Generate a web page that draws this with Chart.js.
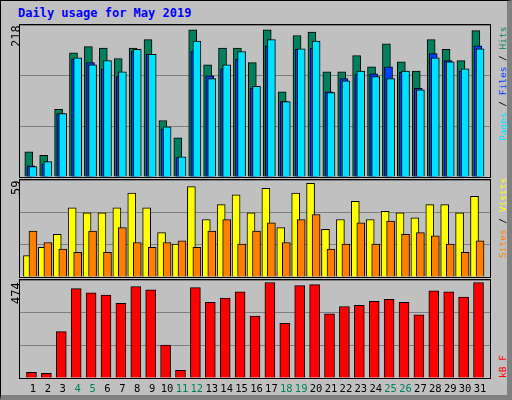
<!DOCTYPE html>
<html>
<head>
<meta charset="utf-8">
<script src="https://cdn.jsdelivr.net/npm/chart.js@4/dist/chart.umd.min.js"></script>
<style>
  body { margin: 0; background: #c0c0c0; }
  #frame { position: absolute; left: 0; top: 0; width: 506px; height: 394px; background: #c0c0c0;
           border-left: 1px solid #000; border-top: 1px solid #000;
           border-right: 5px solid #808080; border-bottom: 5px solid #808080; }
  .panel { position: absolute; left: 19px; width: 470px; border: 1px solid #000; }
  .txt { position: absolute; font: 12px "DejaVu Sans Mono", monospace; white-space: nowrap; }
  .rot { transform-origin: left top; transform: rotate(-90deg); }
  .rl { font-size: 9.5px; }
  #title { left: 18px; top: 6px; color: #0000ff; font-weight: bold; }
</style>
</head>
<body>
<div id="frame"></div>
<div class="txt" id="title">Daily usage for May 2019</div>
<div class="panel" style="top:24px;height:152px"><canvas id="c1" width="470" height="152"></canvas></div>
<div class="panel" style="top:179px;height:97px"><canvas id="c2" width="470" height="97"></canvas></div>
<div class="panel" style="top:279px;height:98px"><canvas id="c3" width="470" height="98"></canvas></div>
<div class="txt rot" style="left:9px;top:47px">218</div>
<div class="txt rot" style="left:9px;top:195px">59</div>
<div class="txt rot" style="left:9px;top:304px">474</div>
<div class="txt rot rl" style="left:497px;top:141px"><span style="color:#00e0ff">Pages</span> / <span style="color:#0040ff">Files</span> / <span style="color:#00805c">Hits</span></div>
<div class="txt rot rl" style="left:497px;top:258px"><span style="color:#ff8000">Sites</span> / <span style="color:#ffff00">Visits</span></div>
<div class="txt rot rl" style="left:497px;top:378px"><span style="color:#ff0000">kB F</span></div>
<div id="xl"></div>
<script>
const days = Array.from({length: 31}, (_, i) => i + 1);
const weekend = [4, 5, 11, 12, 18, 19, 25, 26];
const hits  = [36,31,97,178,187,185,170,185,197,81,56,211,161,185,185,164,211,122,203,208,151,151,174,158,191,165,152,197,183,167,210];
const files = [16,19,91,169,164,155,144,180,176,69,28,180,145,155,169,127,188,108,183,185,122,141,147,148,158,150,127,177,167,152,188];
const pages = [15,22,91,171,161,167,151,183,176,72,29,195,141,161,180,130,197,108,184,195,121,138,152,144,141,152,125,171,165,155,184];
const visits = [13,18,26,42,39,39,42,51,42,27,20,55,35,44,50,39,54,30,51,57,29,35,46,35,40,39,36,44,44,39,49];
const sites  = [28,21,17,15,28,15,30,21,18,21,22,18,28,35,20,28,33,21,35,38,17,20,33,20,34,26,27,25,20,15,22];
const kbytes = [27,22,224,432,412,401,361,442,427,159,37,437,366,386,417,300,462,265,447,452,310,346,351,371,381,366,305,422,417,391,462];

function ds(vals, off, color, w, order) {
  return { data: vals.map((v, i) => ({ x: days[i] + off, y: v })), backgroundColor: color,
           borderColor: '#000', borderWidth: 1, barThickness: w, order: order, grouped: false };
}
function makeChart(id, datasets, max) {
  return new Chart(document.getElementById(id), {
    type: 'bar',
    data: { datasets },
    options: {
      responsive: false, animation: false, devicePixelRatio: 1,
      layout: { padding: 0 },
      plugins: { legend: { display: false }, tooltip: { enabled: false } },
      scales: {
        x: { type: 'linear', min: 0.13, max: 31.67, offset: false, display: false },
        y: { min: 0, max: max, ticks: { display: false, stepSize: max / 3 },
             grid: { color: '#808080', lineWidth: 1, drawTicks: false }, border: { display: false } }
      }
    }
  });
}
makeChart('c1', [ds(hits, -0.28, '#00805c', 8, 3), ds(files, -0.14, '#0040ff', 8, 2), ds(pages, 0, '#00e0ff', 8, 1)], 218);
makeChart('c2', [ds(visits, -0.37, '#ffff00', 8, 2), ds(sites, 0, '#ff8000', 8, 1)], 59);
const c3 = makeChart('c3', [ds(kbytes, -0.1, '#ff0000', 10, 1)], 474);

const xl = document.getElementById('xl');
days.forEach(d => {
  const s = document.createElement('div');
  s.className = 'txt';
  s.textContent = d;
  s.style.fontSize = '10.5px';
  s.style.color = weekend.includes(d) ? '#00805c' : '#000';
  s.style.top = '382px';
  s.style.left = (20 + c3.scales.x.getPixelForValue(d)) + 'px';
  s.style.transform = 'translateX(-50%)';
  xl.appendChild(s);
});
</script>
</body>
</html>
